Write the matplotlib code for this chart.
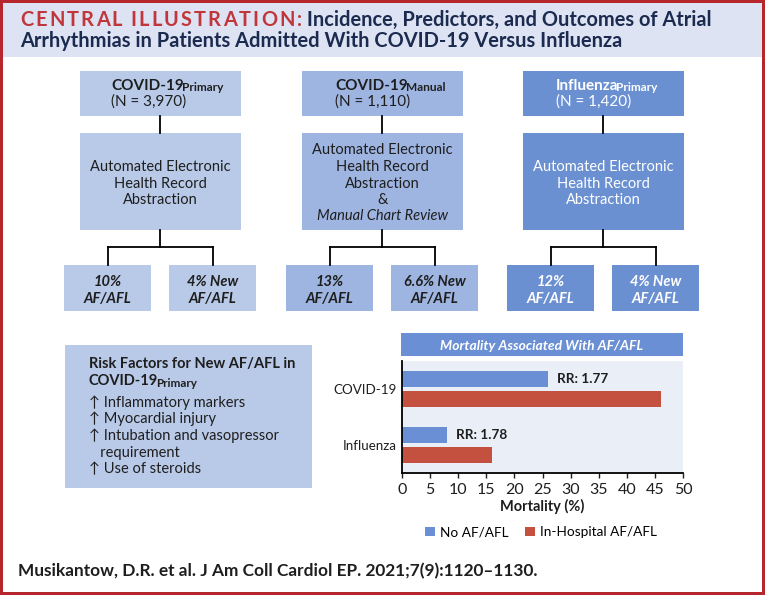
import matplotlib.pyplot as plt
from matplotlib.patches import Rectangle
import numpy as np

plt.rcParams['font.family'] = ['Lato', 'DejaVu Sans']

# ------------------------------------------------------
# Data
# ------------------------------------------------------
cohort_names = ["COVID-19", "COVID-19", "Influenza"]
cohort_subs = ["Primary", "Manual", "Primary"]
cohort_n = ["(N = 3,970)", "(N = 1,110)", "(N = 1,420)"]
af_rates = ["10%", "13%", "12%"]
new_af_rates = ["4% New", "6.6% New", "4% New"]

risk_factors = [
    "\u2191 Inflammatory markers",
    "\u2191 Myocardial injury",
    "\u2191 Intubation and vasopressor",
    "   requirement",
    "\u2191 Use of steroids",
]

groups = ["COVID-19", "Influenza"]
mort_no_af = [26, 8]
mort_af = [46, 16]
rr_labels = ["RR: 1.77", "RR: 1.78"]
series_names = ["No AF/AFL", "In-Hospital AF/AFL"]
x_ticks = [0, 5, 10, 15, 20, 25, 30, 35, 40, 45, 50]

# ------------------------------------------------------
# Colours
# ------------------------------------------------------
RED_BORDER = "#b5272d"
HEADER_BG = "#dde3f2"
TITLE_RED = "#c1363b"
NAVY = "#1b2a4f"
BOX_COLORS = ["#b9cae9", "#9fb5e1", "#6b90d2"]
BOX_TEXT = ["#1e1e1e", "#1e1e1e", "white"]
BAR_BLUE = "#6a8fd4"
BAR_RED = "#c4503f"
TXT = "#1e1e1e"

fig = plt.figure(figsize=(7.65, 5.95), dpi=100)
ax = fig.add_axes([0, 0, 1, 1])
ax.set_xlim(0, 765)
ax.set_ylim(595, 0)
ax.axis("off")

# border + header band
for r in [(0, 0, 765, 3), (0, 592, 765, 3), (0, 0, 3, 595), (762, 0, 3, 595)]:
    ax.add_patch(Rectangle(r[:2], r[2], r[3], color=RED_BORDER, lw=0, zorder=5))
ax.add_patch(Rectangle((3, 3), 759, 54, color=HEADER_BG, lw=0))


def tracked(x, y, s, track, **kw):
    # letter-spaced text, drawn one character at a time
    t = ax.text(x, y, s[0], va="baseline", **kw)
    gap = track
    for ch in s[1:]:
        if ch == " ":
            gap += 4.5
            continue
        t = ax.annotate(ch, xy=(1, 0), xycoords=t, xytext=(gap, 0),
                        textcoords="offset points", va="bottom", **kw)
        gap = track
    return t


TITLE_SIZE = 14.4
t1 = tracked(20, 26, "CENTRAL ILLUSTRATION:", 1.55, color=TITLE_RED,
             fontsize=TITLE_SIZE, fontweight="bold")
ax.annotate(" Incidence, Predictors, and Outcomes of Atrial", xy=(1, 0),
            xycoords=t1, color=NAVY, fontsize=TITLE_SIZE, fontweight="bold",
            va="bottom")
ax.text(20, 47, "Arrhythmias in Patients Admitted With COVID-19 Versus Influenza",
        color=NAVY, fontsize=TITLE_SIZE, fontweight="bold", va="baseline")


def name_with_sub(x, y, name, sub, size, color, ratio=0.8):
    t = ax.text(x, y, name, fontsize=size, fontweight="bold", color=color,
                va="baseline")
    ax.annotate(sub, xy=(1, 0), xycoords=t, xytext=(-1.5, 0.8),
                textcoords="offset points", fontsize=size * ratio,
                fontweight="bold", color=color, va="baseline")
    return t


# ------------------------------------------------------
# Flow chart columns
# ------------------------------------------------------
box_left = [80, 302, 523]
name_left = [111, 335, 556]
box_w = 161
lw = 1.3

for i in range(3):
    x0 = box_left[i]
    cx = x0 + box_w / 2
    c = BOX_COLORS[i]
    tc = BOX_TEXT[i]

    ax.add_patch(Rectangle((x0, 71), box_w, 45, color=c, lw=0))
    ax.add_patch(Rectangle((x0, 133), box_w, 97, color=c, lw=0))

    name_with_sub(name_left[i], 89.5, cohort_names[i], cohort_subs[i], 11, tc,
                  ratio=0.78)
    ax.text(name_left[i], 106, cohort_n[i], fontsize=11, color=tc,
            va="baseline")

    if i == 1:
        lines = ["Automated Electronic", "Health Record", "Abstraction", "&",
                 "Manual Chart Review"]
        ys = [149, 165.5, 182, 198.5, 215]
    else:
        lines = ["Automated Electronic", "Health Record", "Abstraction"]
        ys = [165.5, 182, 198.5]
    for s, yy in zip(lines, ys):
        ax.text(cx, yy, s, fontsize=10.5, color=tc, ha="center",
                va="center_baseline",
                style="italic" if s.startswith("Manual") else "normal")

    # connectors
    ax.plot([cx, cx], [116, 133], color="black", lw=lw)
    ax.plot([cx, cx], [230, 247], color="black", lw=lw)
    ax.plot([cx - 52.5, cx + 52.5], [247, 247], color="black", lw=lw,
            solid_capstyle="projecting")
    for dx in (-52.5, 52.5):
        ax.plot([cx + dx, cx + dx], [247, 265], color="black", lw=lw)

    # result boxes
    for sx, top in [(cx - 96, af_rates[i]), (cx + 9, new_af_rates[i])]:
        ax.add_patch(Rectangle((sx, 265), 87, 46, color=c, lw=0))
        ax.text(sx + 43.5, 280, top, fontsize=10.5, fontweight="bold",
                style="italic", color=tc, ha="center", va="center_baseline")
        ax.text(sx + 43.5, 297, "AF/AFL", fontsize=10.5, fontweight="bold",
                style="italic", color=tc, ha="center", va="center_baseline")

# ------------------------------------------------------
# Risk factor box
# ------------------------------------------------------
ax.add_patch(Rectangle((65, 345), 247, 143, color=BOX_COLORS[0], lw=0))
ax.text(89, 368, "Risk Factors for New AF/AFL in", fontsize=10.5,
        fontweight="bold", color=TXT, va="baseline")
name_with_sub(89, 385, "COVID-19", "Primary", 10.5, TXT)
for j, s in enumerate(risk_factors):
    ax.text(89, 407 + 16.5 * j, s, fontsize=10.5, color=TXT, va="baseline")

# ------------------------------------------------------
# Mortality bar chart
# ------------------------------------------------------
ax.add_patch(Rectangle((401, 333), 282, 23, color=BAR_BLUE, lw=0))
ax.text(542, 345, "Mortality Associated With AF/AFL", fontsize=10,
        fontweight="bold", style="italic", color="white", ha="center",
        va="center_baseline")

ax2 = fig.add_axes([402 / 765, 1 - 473 / 595, 281 / 765, 112 / 595])
ax2.set_facecolor("#e9eef7")
ypos = np.arange(len(groups))[::-1]
b1 = ax2.barh(ypos + 0.18, mort_no_af, height=0.29, color=BAR_BLUE,
              label=series_names[0])
b2 = ax2.barh(ypos - 0.18, mort_af, height=0.29, color=BAR_RED,
              label=series_names[1])
for yy, v, lab in zip(ypos, mort_no_af, rr_labels):
    ax2.annotate(lab, xy=(v, yy + 0.18), xytext=(6.5, 0),
                 textcoords="offset points", fontsize=9.8, fontweight="bold",
                 color=TXT, va="center")
ax2.set_xlim(0, 50)
ax2.set_ylim(-0.5, 1.5)
ax2.set_xticks(x_ticks)
ax2.set_yticks(ypos)
ax2.set_yticklabels(groups)
ax2.tick_params(axis="y", length=0, labelsize=9.6, pad=4, colors=TXT)
ax2.tick_params(axis="x", length=3.5, width=1, labelsize=11.5, pad=4,
                colors=TXT)
for s in ["top", "right"]:
    ax2.spines[s].set_visible(False)
for s in ["left", "bottom"]:
    ax2.spines[s].set_linewidth(1.3)
    ax2.spines[s].set_color("black")
ax2.set_xlabel("Mortality (%)", fontsize=10.5, fontweight="bold", color=TXT,
               labelpad=1)
ax2.legend(handles=[b1, b2], loc="center", bbox_to_anchor=(0.495, -0.53),
           ncol=2, frameon=False, fontsize=9.8, handlelength=0.7,
           handleheight=0.7, handletextpad=0.4, columnspacing=1.2)

# ------------------------------------------------------
# Citation
# ------------------------------------------------------
ax.text(18, 570, "Musikantow, D.R. et al. J Am Coll Cardiol EP. 2021;7(9):1120\u20131130.",
        fontsize=12.4, fontweight="bold", color=TXT, va="center_baseline")

fig.savefig("out.png", dpi=100)
